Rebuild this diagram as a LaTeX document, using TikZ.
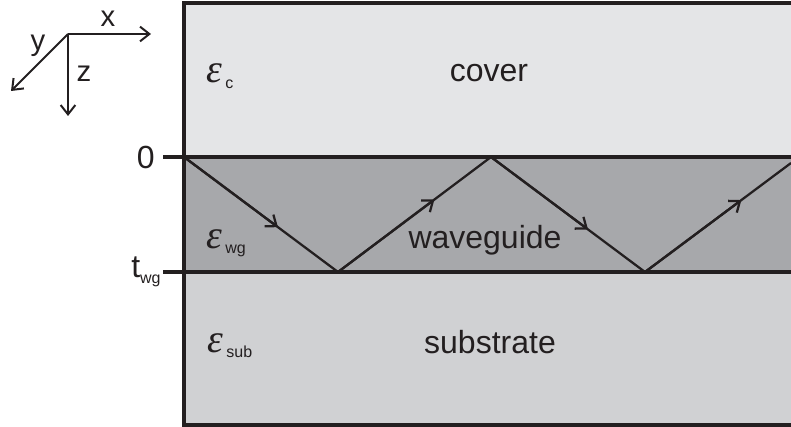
\documentclass[tikz,border=0pt]{standalone}
\usepackage{fontspec}
\setmainfont{Liberation Sans}
\newfontfamily\epsfont{Liberation Serif}
\usetikzlibrary{arrows.meta,calc}
\definecolor{inkblack}{RGB}{35,31,32}
\definecolor{coverfill}{RGB}{228,229,231}
\definecolor{guidefill}{RGB}{167,168,171}
\definecolor{subfill}{RGB}{208,209,211}
\newcommand{\subtxt}[1]{{\fontsize{12}{14}\selectfont #1}}
\newcommand{\epsl}[1]{{\fontsize{30}{34}\selectfont\epsfont\itshape ε}\kern2.5pt\raisebox{-3.8pt}{\subtxt{#1}}}

\begin{document}
\begin{tikzpicture}[x=.75pt,y=-.75pt,
    every node/.style={inner sep=0pt,text=inkblack,font=\fontsize{24}{28}\selectfont},
    border/.style={line width=2.4pt,draw=inkblack},
    ray/.style={line width=1.7pt,draw=inkblack,line join=miter},
    barb/.style={-{Straight Barb[length=7pt,width=11pt,line width=1.7pt]}},
    axis/.style={line width=1.5pt,draw=inkblack,-{Straight Barb[length=7pt,width=11pt,line width=1.5pt]}},
    axislabel/.style={anchor=base,font=\fontsize{22}{26}\selectfont}]
  \useasboundingbox (0,0) rectangle (791,427);

  % layers
  \fill[coverfill] (184,3) rectangle (791,157);
  \fill[guidefill] (184,157) rectangle (791,272);
  \fill[subfill] (184,272) rectangle (791,425);
  \draw[border] (792,3) -- (184,3) -- (184,425) -- (792,425);
  \draw[border] (163,157) -- (792,157);
  \draw[border] (163,272) -- (792,272);

  % coordinate system
  \coordinate (o) at (68,34);
  \coordinate (xtip) at (151,34);
  \coordinate (ytip) at (11,91);
  \coordinate (ztip) at (68,116);
  \draw[axis] (o) -- (xtip);
  \draw[axis] (o) -- (ytip);
  \draw[axis] (o) -- (ztip);
  \node[axislabel] (xlab) at (108,27) {x};
  \node[axislabel] (ylab) at (38,51) {y};
  \node[axislabel] (zlab) at (84,82) {z};

  % depth marks
  \node[anchor=base east] (zero) at (155,169) {0};
  \node[anchor=base west] (twg) at (131,277) {t\raisebox{-4.5pt}{\subtxt{wg}}};

  % zig-zag ray
  \coordinate (b0) at (184,157);
  \coordinate (b1) at (338,272);
  \coordinate (b2) at (491,157);
  \coordinate (b3) at (645,272);
  \coordinate (b4) at (791,163);
  \draw[ray] (b0) -- (b1) -- (b2) -- (b3) -- (b4);
  \foreach \s/\e/\p in {b0/b1/.61,b1/b2/.63,b2/b3/.63,b3/b4/.66}
    \draw[ray,barb] (\s) -- ($(\s)!\p!(\e)$);

  % labels
  \node[anchor=base west] (epsc) at (206,83) {\epsl{c}};
  \node[anchor=base west] (epswg) at (206,248) {\epsl{wg}};
  \node[anchor=base west] (epssub) at (207,352) {\epsl{sub}};
  \node[anchor=base] (cover) at (489,82) {cover};
  \node[anchor=base] (guide) at (485,248) {waveguide};
  \node[anchor=base] (substrate) at (490,353) {substrate};
\end{tikzpicture}
\end{document}
